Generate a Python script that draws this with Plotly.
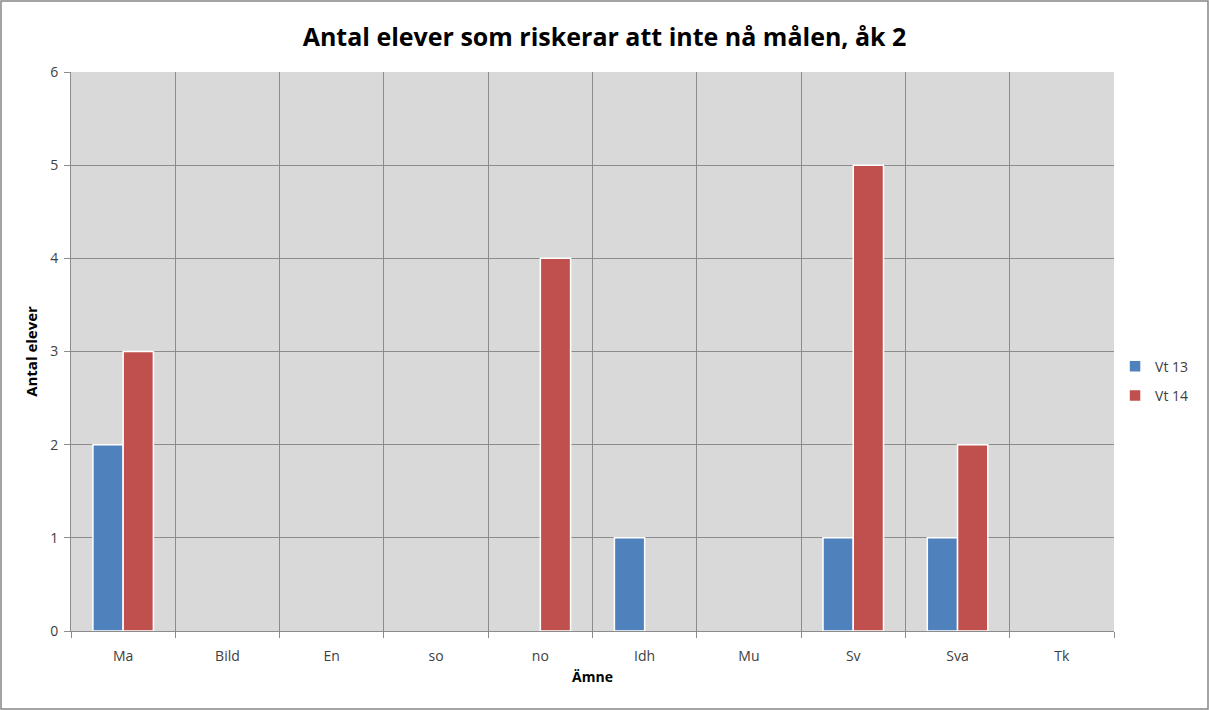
import plotly.graph_objects as go

W, H = 1209, 710
ML, MR, MT, MB = 71, 95, 72, 79

subjects = ["Ma", "Bild", "En", "so", "no", "Idh", "Mu", "Sv", "Sva", "Tk"]
vt13 = [2, None, None, None, None, 1, None, 1, 1, None]
vt14 = [3, None, None, None, 4, None, None, 5, 2, None]

fig = go.Figure()

fig.add_trace(go.Bar(
    x=subjects, y=vt13, name="Vt 13", legendgroup="a",
    marker=dict(color="#4F81BD", line=dict(color="white", width=1.5)),
))
fig.add_trace(go.Bar(
    x=subjects, y=vt14, name="Vt 14", legendgroup="b",
    marker=dict(color="#C0504D", line=dict(color="white", width=1.5)),
))

# gray frame around the whole chart
pw = W - ML - MR
ph = H - MT - MB
fig.add_shape(
    type="rect", xref="paper", yref="paper",
    x0=-(ML - 1) / pw, x1=1 + (MR - 1) / pw,
    y0=-(MB - 1) / ph, y1=1 + (MT - 1) / ph,
    line=dict(color="#868686", width=1.5), layer="below",
)

fig.update_layout(
    width=W, height=H,
    margin=dict(l=ML, r=MR, t=MT, b=MB, autoexpand=False),
    paper_bgcolor="white",
    plot_bgcolor="#D9D9D9",
    barmode="group",
    bargap=0.42,
    bargroupgap=0,
    font=dict(family="Open Sans, Liberation Sans, sans-serif", color="#404040", size=13),
    title=dict(
        text="<b>Antal elever som riskerar att inte nå målen, åk 2</b>",
        x=0.5, xref="container", xanchor="center",
        y=1 - 37 / H, yanchor="middle",
        font=dict(size=25, color="black"),
    ),
    legend=dict(
        x=1.001, y=0.447, xanchor="left", yanchor="middle",
        font=dict(size=14, color="#404040"),
        itemwidth=30, tracegroupgap=8, traceorder="grouped",
    ),
)

fig.update_xaxes(
    type="category",
    tickson="boundaries",
    showgrid=True, gridcolor="#8C8C8C", gridwidth=1,
    ticks="outside", ticklen=6, tickcolor="#8C8C8C",
    showline=True, linecolor="#8C8C8C", linewidth=1,
    ticklabelstandoff=12,
    title=dict(text="<b>Ämne</b>", font=dict(size=14, color="black"), standoff=8),
    tickfont=dict(size=14, color="#404040"),
)
fig.update_yaxes(
    range=[0, 6], dtick=1,
    showgrid=True, gridcolor="#8C8C8C", gridwidth=1,
    ticks="outside", ticklen=6, tickcolor="#8C8C8C",
    showline=True, linecolor="#8C8C8C", linewidth=1,
    zeroline=False,
    ticklabelstandoff=3,
    title=dict(text="<b>Antal elever</b>", font=dict(size=15, color="black"), standoff=8),
    tickfont=dict(size=14, color="#404040"),
)

fig.write_html(
    "out.html",
    config={"displayModeBar": False},
    post_script="document.body.style.margin='0';",
)
